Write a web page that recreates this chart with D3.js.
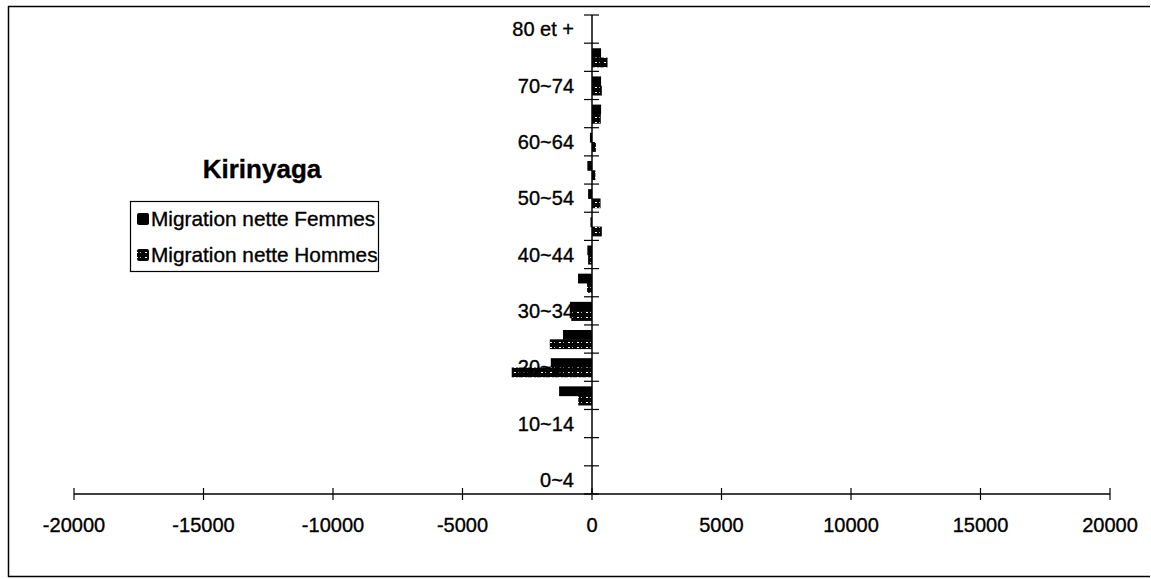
<!DOCTYPE html>
<html><head><meta charset="utf-8">
<script src="https://cdn.jsdelivr.net/npm/d3@7"></script>
<style>body{margin:0;background:#fff}svg{display:block;font-family:"Liberation Sans",Arial,sans-serif}text{stroke:#000;stroke-width:0.35px}</style>
</head><body>
<svg id="c" width="1151" height="579"></svg>
<script>
const ageGroups = ["0~4","5~9","10~14","15~19","20~24","25~29","30~34","35~39","40~44","45~49","50~54","55~59","60~64","65~69","70~74","75~79","80 et +"];
const shownLabels = ["0~4","10~14","20~24","30~34","40~44","50~54","60~64","70~74","80 et +"];
const femmes = [0,0,0,-1270,-1590,-1120,-850,-540,-180,-60,-150,-180,-80,350,350,350,0];
const hommes = [0,0,0,-530,-3100,-1630,-800,-190,-150,380,330,130,150,340,380,600,0];
const seriesNames = ["Migration nette Femmes","Migration nette Hommes"];
const xTicks = [-20000,-15000,-10000,-5000,0,5000,10000,15000,20000];

const svg = d3.select("#c");
const defs = svg.append("defs");
const pat = defs.append("pattern").attr("id","hatch").attr("patternUnits","userSpaceOnUse").attr("width",9).attr("height",5);
pat.append("rect").attr("width",9).attr("height",5).attr("fill","#050505");
pat.append("rect").attr("x",1).attr("y",2).attr("width",2).attr("height",1).attr("fill","#fff");
pat.append("rect").attr("x",5).attr("y",2).attr("width",1).attr("height",1).attr("fill","#bbb");

// frame
svg.append("path").attr("d","M8,6.5 H1150 M8.5,6 V577 M8,576.5 H1150").attr("stroke","#000").attr("stroke-width",1.5).attr("fill","none");

const x = d3.scaleLinear().domain([-20000,20000]).range([74,1110]);
const y = d3.scaleBand().domain(ageGroups.slice().reverse()).range([15,494]).padding(0);
const s = d3.scaleBand().domain(seriesNames).range([y.bandwidth()*0.18, y.bandwidth()*0.84]).padding(0);

const data = ageGroups.map((g,i)=>({g, f:femmes[i], h:hommes[i]}));

// bars
const gb = svg.append("g");
data.forEach(d=>{
  [["f",seriesNames[0],"#000"],["h",seriesNames[1],"url(#hatch)"]].forEach(([k,name,fill])=>{
    const v = d[k];
    if (v===0) return;
    gb.append("rect")
      .attr("x", x(Math.min(0,v)))
      .attr("y", y(d.g)+s(name))
      .attr("width", Math.abs(x(v)-x(0)))
      .attr("height", s.bandwidth()+0.5)
      .attr("fill", fill);
  });
});

// x axis
const xa = svg.append("g").attr("transform","translate(0,494)");
xa.append("line").attr("x1",x(-20000)).attr("x2",x(20000)).attr("stroke","#000").attr("stroke-width",1.3);
xa.selectAll("line.t").data(xTicks).enter().append("line").attr("class","t")
  .attr("x1",d=>x(d)).attr("x2",d=>x(d)).attr("y1",-6).attr("y2",6).attr("stroke","#000").attr("stroke-width",1.2);
xa.selectAll("text").data(xTicks).enter().append("text")
  .attr("x",d=>x(d)).attr("y",38).attr("text-anchor","middle").attr("font-size",20).attr("fill","#000").text(d=>d);

// y axis
const x0 = x(0);
const ya = svg.append("g");
ya.append("line").attr("x1",x0).attr("x2",x0).attr("y1",15).attr("y2",494).attr("stroke","#000").attr("stroke-width",1.5);
const bounds = ageGroups.map(g=>y(g)).concat([494]);
ya.selectAll("line.t").data(bounds).enter().append("line").attr("class","t")
  .attr("x1",x0-8).attr("x2",x0+7).attr("y1",d=>d).attr("y2",d=>d).attr("stroke","#000").attr("stroke-width",1.2);
ya.selectAll("text").data(shownLabels).enter().append("text")
  .attr("x",574).attr("y",d=>y(d)+y.bandwidth()/2).attr("dy","0.36em")
  .attr("text-anchor","end").attr("font-size",20).attr("fill","#000").text(d=>d);

// title
svg.append("text").attr("x",262).attr("y",178).attr("text-anchor","middle").attr("font-size",26).attr("font-weight","bold").attr("fill","#000").text("Kirinyaga");

// legend
const lg = svg.append("g");
lg.append("rect").attr("x",130.5).attr("y",201.5).attr("width",248).attr("height",70).attr("fill","#fff").attr("stroke","#000").attr("stroke-width",1.2);
seriesNames.forEach((n,i)=>{
  const cy = 219 + i*36;
  lg.append("rect").attr("x",137).attr("y",cy-6).attr("width",12).attr("height",12).attr("rx",2).attr("fill", i===0?"#000":"url(#hatch)");
  lg.append("text").attr("x",151).attr("y",cy).attr("dy","0.36em").attr("font-size",20.8).attr("fill","#000").text(n);
});
</script>
</body></html>
